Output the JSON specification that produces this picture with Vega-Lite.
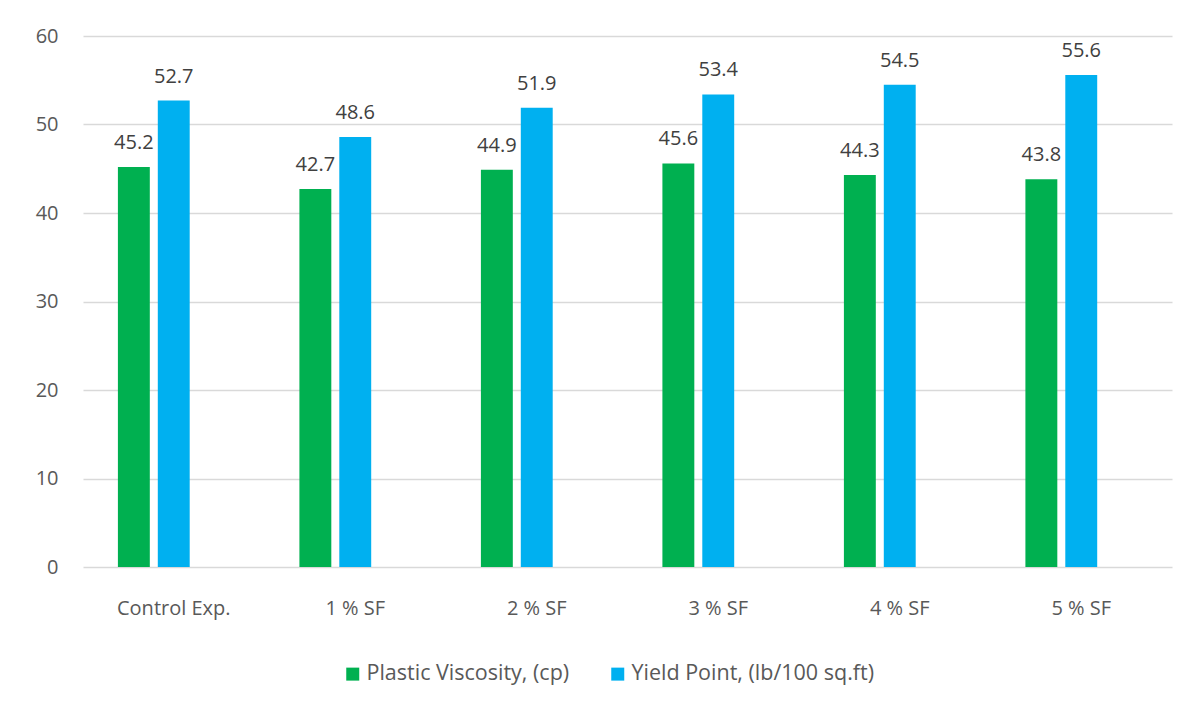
{
  "$schema": "https://vega.github.io/schema/vega-lite/v6.json",
  "width": 1089,
  "height": 531,
  "autosize": {"type": "none"},
  "padding": {"left": 83, "top": 36, "right": 28, "bottom": 141},
  "background": "white",
  "config": {"view": {"stroke": null}, "font": "Open Sans"},
  "data": {
    "values": [
      {"mix": "Control Exp.", "property": "Plastic Viscosity, (cp)", "value": 45.2},
      {"mix": "Control Exp.", "property": "Yield Point, (lb/100 sq.ft)", "value": 52.7},
      {"mix": "1 % SF", "property": "Plastic Viscosity, (cp)", "value": 42.7},
      {"mix": "1 % SF", "property": "Yield Point, (lb/100 sq.ft)", "value": 48.6},
      {"mix": "2 % SF", "property": "Plastic Viscosity, (cp)", "value": 44.9},
      {"mix": "2 % SF", "property": "Yield Point, (lb/100 sq.ft)", "value": 51.9},
      {"mix": "3 % SF", "property": "Plastic Viscosity, (cp)", "value": 45.6},
      {"mix": "3 % SF", "property": "Yield Point, (lb/100 sq.ft)", "value": 53.4},
      {"mix": "4 % SF", "property": "Plastic Viscosity, (cp)", "value": 44.3},
      {"mix": "4 % SF", "property": "Yield Point, (lb/100 sq.ft)", "value": 54.5},
      {"mix": "5 % SF", "property": "Plastic Viscosity, (cp)", "value": 43.8},
      {"mix": "5 % SF", "property": "Yield Point, (lb/100 sq.ft)", "value": 55.6}
    ]
  },
  "encoding": {
    "x": {
      "field": "mix",
      "type": "nominal",
      "sort": null,
      "scale": {"paddingInner": 0, "paddingOuter": 0},
      "axis": {
        "title": null,
        "labelAngle": 0,
        "domain": false,
        "ticks": false,
        "labelFontSize": 20,
        "labelColor": "#595959",
        "labelPadding": 31,
        "labelBaseline": "top"
      }
    },
    "xOffset": {
      "field": "property",
      "type": "nominal",
      "scale": {
        "domain": ["Plastic Viscosity, (cp)", "Yield Point, (lb/100 sq.ft)", "_"],
        "paddingInner": 0.2,
        "paddingOuter": 0.875
      }
    },
    "y": {
      "field": "value",
      "type": "quantitative",
      "scale": {"domain": [0, 60]},
      "axis": {
        "title": null,
        "values": [0, 10, 20, 30, 40, 50, 60],
        "domain": false,
        "ticks": false,
        "gridColor": "#d9d9d9",
        "gridWidth": 1.3,
        "labelFontSize": 20,
        "labelColor": "#595959",
        "labelPadding": 25
      }
    }
  },
  "layer": [
    {
      "mark": {"type": "bar"},
      "encoding": {
        "color": {
          "field": "property",
          "type": "nominal",
          "scale": {
            "domain": ["Plastic Viscosity, (cp)", "Yield Point, (lb/100 sq.ft)"],
            "range": ["#00B050", "#00B0F0"]
          },
          "legend": {
            "orient": "none",
            "legendX": 259,
            "legendY": 627,
            "direction": "horizontal",
            "title": null,
            "symbolType": "square",
            "symbolSize": 169,
            "symbolStrokeWidth": 0,
            "labelFontSize": 21.5,
            "labelLimit": 400,
            "labelColor": "#595959",
            "labelOffset": 3,
            "columnPadding": 37
          }
        }
      }
    },
    {
      "mark": {"type": "text", "baseline": "alphabetic", "dy": -18, "fontSize": 20, "color": "#404040"},
      "encoding": {
        "text": {"field": "value", "type": "quantitative", "format": ".1f"}
      }
    }
  ]
}
